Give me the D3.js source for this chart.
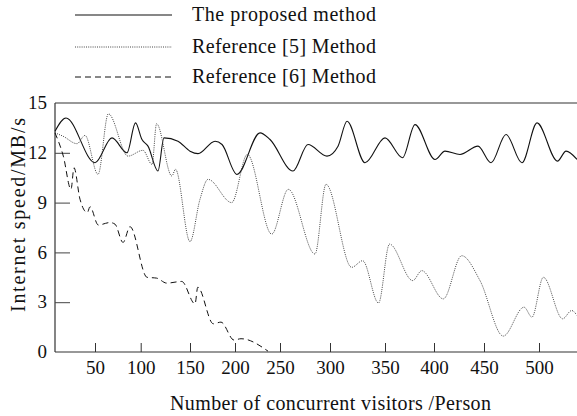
<!DOCTYPE html>
<html><head><meta charset="utf-8">
<script src="https://cdn.jsdelivr.net/npm/d3@7"></script>
<style>body{margin:0;background:#fff}svg{display:block}</style>
</head><body><svg id="c" width="577" height="416"></svg>
<script>
// ---- data ----
const xTicks = [50,100,150,200,250,300,350,400,450,500];
const yTicks = [0,3,6,9,12,15];
const seriesNames = ["The proposed method","Reference [5] Method","Reference [6] Method"];
const proposedX = [0,13.75,50,68.6,85,94.3,101.3,107.4,117.5,123.6,137.8,150,158.9,177.8,185.6,202.2,227.8,238.9,263,278,297,307.3,315.5,331.8,350,367.9,380.6,401,411,426,444,456.4,470,484.5,498.2,517,524.9,535];
const proposedY = [13.3,14.1,11.4,12.9,12.0,13.8,12.8,12.4,10.9,12.9,12.7,12.1,11.95,12.7,12.5,10.7,13.2,12.8,10.9,12.5,11.8,12.4,13.9,11.4,12.9,11.7,13.7,11.6,12.1,11.9,12.4,11.4,13.1,11.4,13.8,11.5,12.1,11.6];
const ref5X = [0,10,27.5,37.5,53.3,64.6,86.1,102.3,111.5,116.1,131.6,135.3,150,161.1,170,196.3,213.7,240.8,258.3,285,296,319.7,329.7,344.1,354.6,378.3,387.5,409.3,427.7,446,467.5,486.4,493.6,504,521.8,530.1,535];
const ref5Y = [13.2,13.0,12.55,13.05,10.7,14.35,11.8,12.15,11.3,13.75,10.6,11.0,6.65,9.2,10.4,9.0,11.9,7.1,9.8,5.9,10.1,5.1,5.5,2.95,6.5,4.3,4.9,3.2,5.8,4.3,0.96,2.7,2.1,4.5,2.0,2.5,2.2];
const ref6X = [0,10.4,20,23.75,31.25,40.4,43.75,53.6,66.4,71.9,80.7,88.3,106.4,116.2,126.4,141.6,155.6,158.6,175.9,184.4,198.9,206.7,236.7];
const ref6Y = [13.2,11.8,9.8,11.1,9.2,8.4,8.75,7.65,7.8,7.7,6.6,7.55,4.5,4.45,4.15,4.25,2.9,3.9,1.7,1.8,0.72,0.8,0.05];

// ---- layout ----
const FONT = "Liberation Serif";
const svg = d3.select("#c").attr("font-family", FONT);
const pLeft = 55, pRight = 577, pTop = 103, pBottom = 352;
const x = d3.scaleLinear()
  .domain([0,50,100,150,200,250,300,350,400,450,500,535])
  .range([55,95,140.7,190,235,280,330,385,434,484,539,577]);
const y = d3.scaleLinear().domain([0,15]).range([pBottom, pTop]);

// frame
svg.append("line").attr("x1",pLeft).attr("x2",pRight).attr("y1",pTop).attr("y2",pTop).attr("stroke","#333").attr("stroke-width",1.2);
svg.append("line").attr("x1",pLeft).attr("x2",pRight).attr("y1",pBottom).attr("y2",pBottom).attr("stroke","#333").attr("stroke-width",1.2);
svg.append("line").attr("x1",pLeft).attr("x2",pLeft).attr("y1",pTop).attr("y2",pBottom).attr("stroke","#333").attr("stroke-width",1.2);

// x axis
const gx = svg.append("g").attr("transform",`translate(0,${pBottom})`)
  .call(d3.axisBottom(x).tickValues(xTicks).tickSize(-9).tickPadding(9).tickFormat(d3.format("d")));
gx.attr("font-family", FONT).attr("font-size", 19);
gx.select(".domain").remove();
gx.selectAll("line").attr("stroke","#333");
gx.selectAll("text").attr("font-family", FONT).attr("fill","#111");

// y axis
const gy = svg.append("g").attr("transform",`translate(${pLeft},0)`)
  .call(d3.axisLeft(y).tickValues(yTicks).tickSize(-15).tickPadding(8).tickFormat(d3.format("d")));
gy.attr("font-family", FONT).attr("font-size", 19);
gy.select(".domain").remove();
gy.selectAll(".tick").filter(d=>d===0||d===15).select("line").remove();
gy.selectAll("line").attr("stroke","#444");
gy.selectAll("text").attr("font-family", FONT).attr("fill","#111").attr("dy","0.3em");

// axis titles
svg.append("text").attr("x",170).attr("y",410).attr("font-family",FONT).attr("font-size",20).attr("fill","#111")
  .attr("textLength",321).attr("lengthAdjust","spacing").text("Number of concurrent visitors /Person");
svg.append("text").attr("transform","translate(25,312) rotate(-90)").attr("font-family",FONT).attr("font-size",20).attr("fill","#111")
  .attr("textLength",194).attr("lengthAdjust","spacing").text("Internet speed/MB/s");

// lines
const styles = [
  {stroke:"#111", dash:null, w:1.1},
  {stroke:"#444", dash:"1,1.2", w:1},
  {stroke:"#111", dash:"6,4", w:1}
];
const lineGen = d3.line().x(d=>x(d[0])).y(d=>y(d[1])).curve(d3.curveMonotoneX);
const sets = [d3.zip(proposedX,proposedY), d3.zip(ref5X,ref5Y), d3.zip(ref6X,ref6Y)];
sets.forEach((s,i)=>{
  svg.append("path").datum(s).attr("d",lineGen).attr("fill","none")
    .attr("stroke",styles[i].stroke).attr("stroke-width",styles[i].w)
    .attr("stroke-dasharray",styles[i].dash);
});

// legend
const legY = [15,47,77];
seriesNames.forEach((n,i)=>{
  svg.append("line").attr("x1",75).attr("x2",172).attr("y1",legY[i]).attr("y2",legY[i])
    .attr("stroke",styles[i].stroke).attr("stroke-width",styles[i].w).attr("stroke-dasharray",styles[i].dash);
  svg.append("text").attr("x",192).attr("y",legY[i]+6).attr("font-family",FONT).attr("font-size",20).attr("fill","#111")
    .attr("textLength",184).attr("lengthAdjust","spacing").text(n);
});
</script></body></html>
